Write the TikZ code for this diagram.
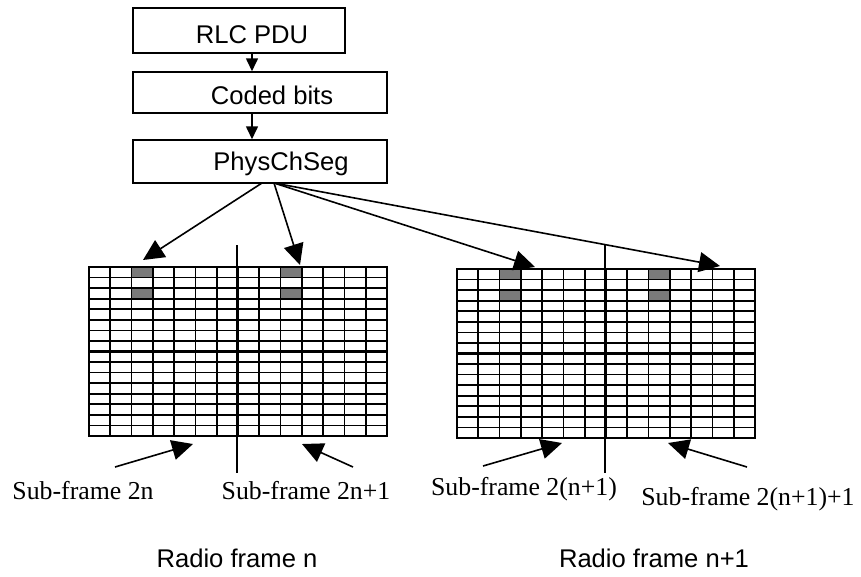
\documentclass[tikz,border=0pt]{standalone}
\usepackage{fontspec}
\setmainfont{Liberation Serif}
\newfontfamily\arialf{Liberation Sans}
\usetikzlibrary{arrows.meta}
\begin{document}
\begin{tikzpicture}[x=1pt,y=-1pt,
  box/.style={draw, line width=1.5pt, inner sep=0pt},
  btext/.style={font=\arialf\fontsize{25.6}{30}\selectfont, anchor=base, inner sep=0pt},
  stext/.style={font=\fontsize{25.8}{30}\selectfont, anchor=base, inner sep=0pt},
  smallarrow/.style={-{Triangle[length=13pt,width=12pt]}, line width=1.6pt},
  bigarrow/.style={-{Triangle[length=21pt,width=20pt]}, line width=1.6pt},
  gridl/.style={line width=1.7pt},
  thickl/.style={line width=2.4pt},
  cellfill/.style={fill=black!52},
  divider/.style={line width=1.6pt},
  ]
\useasboundingbox (0,0) rectangle (861,576);
% boxes
\node[box, minimum width=212pt, minimum height=45pt] (rlc) at (239,30.5) {};
\node[box, minimum width=254pt, minimum height=41pt] (coded) at (260,92.5) {};
\node[box, minimum width=254pt, minimum height=43pt] (phys) at (260,161.5) {};
\node[btext] (rlct) at (252,43) {RLC PDU};
\node[btext] (codedt) at (272,104) {Coded bits};
\node[btext] (physt) at (281,170) {PhysChSeg};
\coordinate (ax) at (252,0);
\draw[smallarrow] (rlc.south -| ax) -- (coded.north -| ax);
\draw[smallarrow] (coded.south -| ax) -- (phys.north -| ax);
% grids
\foreach \gx/\gy in {89/267, 457/269} {
  \begin{scope}[shift={(\gx,\gy)}]
    \foreach \c in {2,9} {
      \foreach \r in {0,2} {
        \fill[cellfill] ({\c*21.2857},{\r*10.5625}) rectangle ++(21.2857,10.5625);
      }
    }
    \foreach \i in {0,...,14} {
      \draw[gridl] ({\i*21.2857},0) -- ({\i*21.2857},169);
    }
    \foreach \j in {0,...,16} {
      \draw[gridl] (0,{\j*10.5625}) -- (298,{\j*10.5625});
    }
    \draw[thickl] (0,84.5) -- (298,84.5);
    \draw[thickl] (149,0) -- (149,169);
    \draw[thickl] (0,0) rectangle (298,169);
  \end{scope}
}
% dividers
\draw[divider] (237,245) -- (237,473);
\draw[divider] (605,245) -- (605,473);
% arrows from PhysChSeg
\coordinate (s1) at (262,183);
\coordinate (s2) at (274,183);
\coordinate (t1) at (143,260);
\coordinate (t2) at (300,265);
\coordinate (t3) at (535,267);
\coordinate (t4) at (720,266);
\draw[bigarrow] (s1) -- (t1);
\draw[bigarrow] (s2) -- (t2);
\draw[bigarrow] (s2) -- (t3);
\draw[bigarrow] (s2) -- (t4);
% labels
\node[stext] (sf1) at (83,499) {Sub-frame 2n};
\node[stext] (sf2) at (306,499) {Sub-frame 2n+1};
\node[stext] (sf3) at (524,495) {Sub-frame 2(n+1)};
\node[stext] (sf4) at (748,505) {Sub-frame 2(n+1)+1};
\node[btext] (rf1) at (237,567) {Radio frame n};
\node[btext] (rf2) at (654,567) {Radio frame n+1};
% bottom arrows
\coordinate (b1s) at (115,467); \coordinate (b1t) at (193,444);
\coordinate (b2s) at (353,467); \coordinate (b2t) at (302,444);
\coordinate (b3s) at (483,466); \coordinate (b3t) at (562,443);
\coordinate (b4s) at (747,467); \coordinate (b4t) at (668,443);
\draw[bigarrow] (b1s) -- (b1t);
\draw[bigarrow] (b2s) -- (b2t);
\draw[bigarrow] (b3s) -- (b3t);
\draw[bigarrow] (b4s) -- (b4t);
\end{tikzpicture}
\end{document}
